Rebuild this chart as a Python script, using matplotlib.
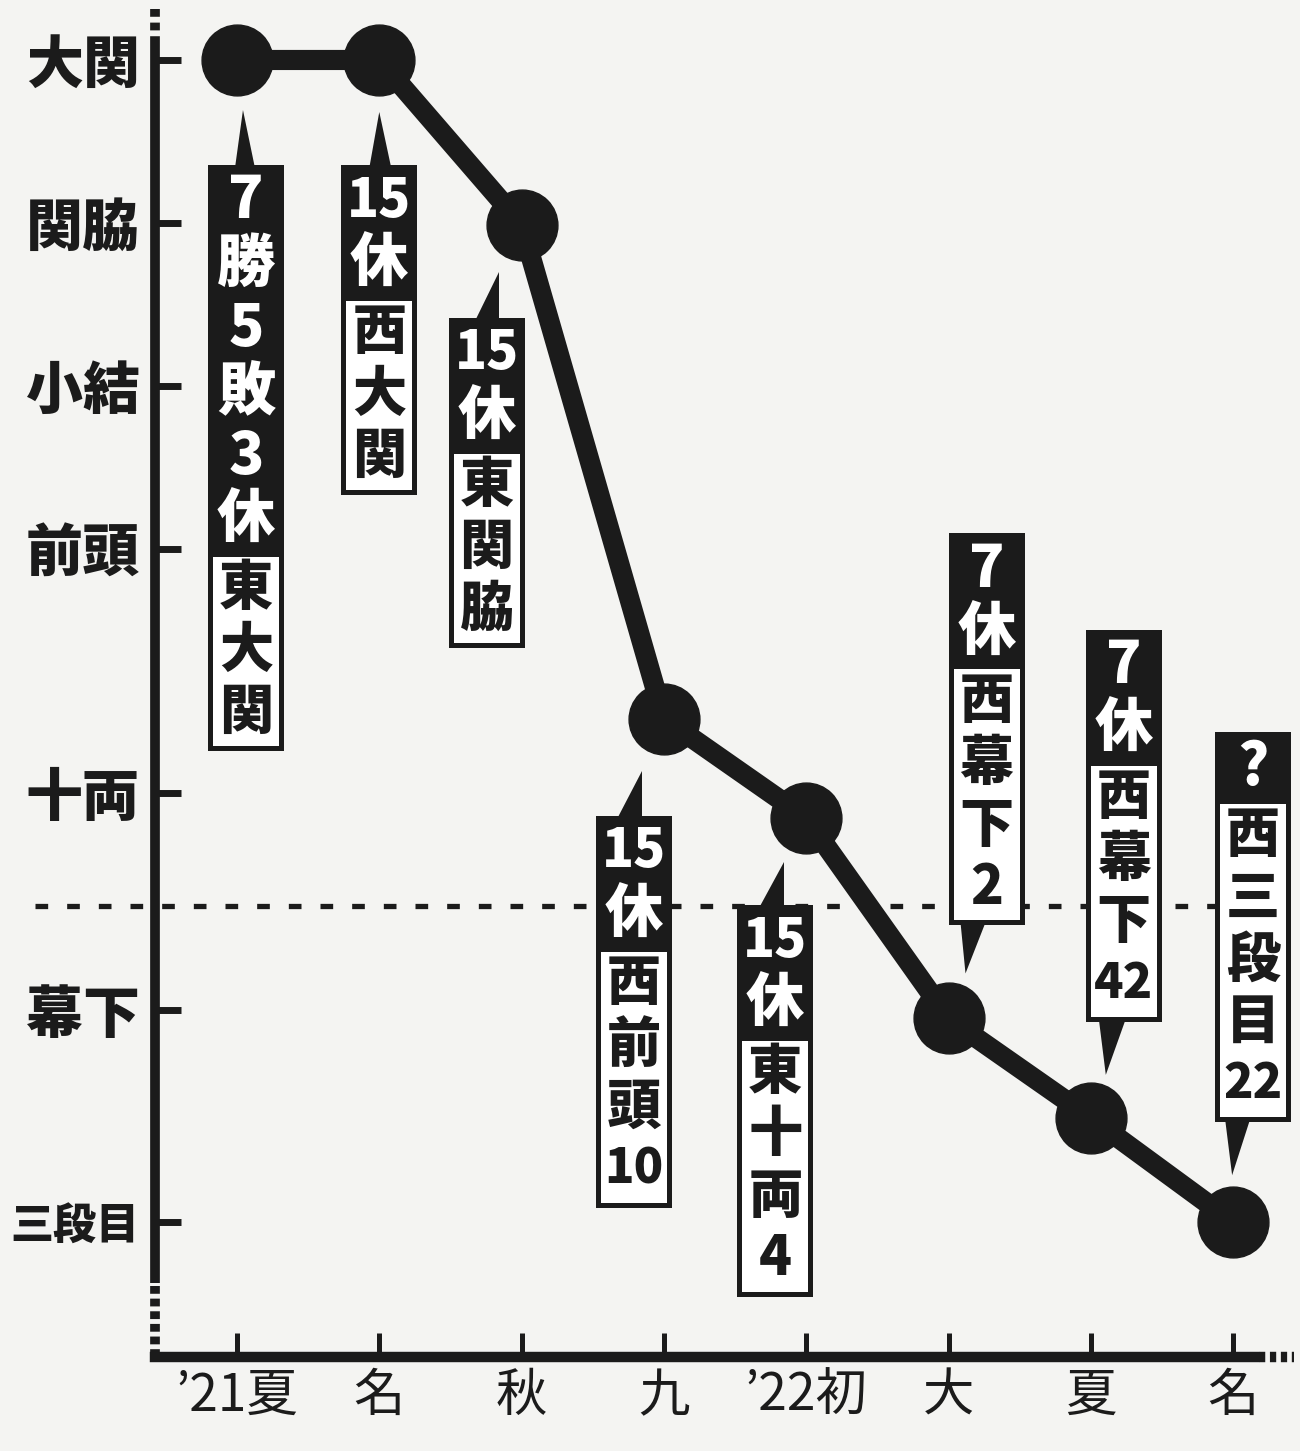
import re
import matplotlib.pyplot as plt
import matplotlib.transforms as mtrans
from matplotlib.patches import Rectangle, Polygon

plt.rcParams['font.family'] = ['Noto Sans CJK JP', 'DejaVu Sans']

INK = '#1b1b1b'
PAPER = '#f4f4f2'

# banzuke rank axis (top = highest rank)
rank_labels = ['大関', '関脇', '小結', '前頭', '十両', '幕下', '三段目']
rank_pos = [0, 1, 2, 3, 4.5, 5.83, 7.13]
juryo_line = 5.19  # sekitori / makushita border

basho = ['’21夏', '名', '秋', '九', '’22初', '大', '夏', '名']
rank_vals = [0, 0, 1.01, 4.04, 4.65, 5.88, 6.49, 7.13]
results = ['7勝5敗3休', '15休', '15休', '15休', '15休', '7休', '7休', '?']
banzuke = ['東大関', '西大関', '東関脇', '西前頭10', '東十両4',
           '西幕下2', '西幕下42', '西三段目22']

# callout layout in pixels from each dot (y grows downward):
# side, box left, gap to box, pointer tip (dx, dy), pointer base (x0, x1)
callouts = [
    ('below', -29, 105, (6, 50), (-2, 18)),
    ('below', -38, 105, (0, 52), (-10, 12)),
    ('below', -73, 93, (-23, 47), (-47, -23)),
    ('below', -68, 97, (-22, 52), (-47, -22)),
    ('below', -69, 87, (-22, 44), (-47, -22)),
    ('above', 0, 93, (17, 45), (12, 37)),
    ('above', -5, 96, (15, 43), (8, 35)),
    ('above', -18, 100, (-1, 47), (-8, 17)),
]
BOX_W = 76
CELL_B = 64
CELL_W = 62

fig = plt.figure(figsize=(13, 14.51), dpi=100)
fig.patch.set_facecolor(PAPER)
ax = fig.add_axes([155 / 1300, 94 / 1451, 1145 / 1300, 1357 / 1451])
ax.set_facecolor('none')

x = list(range(len(basho)))
ax.set_xlim(-0.576, 7.47)
ax.set_ylim(7.957, -0.368)

# main line with dots
ax.plot(x, rank_vals, color=INK, lw=14.5, marker='o', ms=51,
        solid_capstyle='round', zorder=3)

# dotted border between juryo and makushita
ax.axhline(juryo_line, xmin=-0.105, xmax=0.93, color=INK, lw=3.8,
           linestyle=(0, (2.4, 3.6)), clip_on=False, zorder=1)

# axes styling
for s in ['top', 'right']:
    ax.spines[s].set_visible(False)
ax.spines['left'].set_linewidth(7)
ax.spines['bottom'].set_linewidth(7.5)
ax.spines['left'].set_color(INK)
ax.spines['bottom'].set_color(INK)
ax.spines['left'].set_bounds(7.50, -0.135)
ax.spines['bottom'].set_bounds(-0.576, 7.15)
ax.spines['left'].set_capstyle('butt')

# broken ends of the axes
ax.plot([0, 0], [-0.31, -0.135], transform=ax.get_yaxis_transform(),
        color=INK, lw=7, linestyle=(0, (0.8, 0.6)), clip_on=False)
ax.plot([0, 0], [7.52, 7.957], transform=ax.get_yaxis_transform(),
        color=INK, lw=7, linestyle=(0, (0.8, 0.5)), clip_on=False)
ax.plot([7.18, 7.43], [0, 0], transform=ax.get_xaxis_transform(),
        color=INK, lw=7.5, linestyle=(0, (0.6, 0.45)), clip_on=False)

ax.set_yticks(rank_pos, rank_labels, fontsize=41, fontweight='heavy')
ax.set_xticks(x, basho, fontsize=37)
ax.tick_params(axis='y', direction='in', length=19, width=5, color=INK,
               pad=11, labelcolor=INK)
ax.tick_params(axis='x', direction='in', length=17, width=3.6, color=INK,
               pad=9, labelcolor=INK)
for lab in ax.get_yticklabels():
    if len(lab.get_text()) > 2:
        lab.set_fontsize(31)


def draw_callout(i, side, left, gap, tip, base):
    tr = mtrans.Affine2D().scale(1, -1) + \
        mtrans.ScaledTranslation(x[i], rank_vals[i], ax.transData)
    btoks = re.findall(r'\d+|.', results[i])
    wtoks = re.findall(r'\d+|.', banzuke[i])
    hb = len(btoks) * CELL_B + 8
    hw = len(wtoks) * CELL_W + 8
    if side == 'below':
        top = gap
        edge_in = gap + 3
        tip_v = tip[1]
    else:
        top = -gap - hb - hw
        edge_in = -gap - 3
        tip_v = -tip[1]
    cx = left + BOX_W / 2

    ax.add_patch(Polygon([(base[0], edge_in), (base[1], edge_in), (tip[0], tip_v)],
                         closed=True, facecolor=INK, edgecolor='none',
                         transform=tr, clip_on=False, zorder=5))
    ax.add_patch(Rectangle((left, top), BOX_W, hb + hw, facecolor=INK,
                           edgecolor='none', transform=tr, clip_on=False, zorder=5))
    ax.add_patch(Rectangle((left + 5, top + hb), BOX_W - 10, hw - 5, facecolor='white',
                           edgecolor='none', transform=tr, clip_on=False, zorder=6))
    for k, t in enumerate(btoks):
        fs = 38 if len(t) > 1 else 42
        ax.text(cx, top + 4 + CELL_B * (k + 0.5), t, transform=tr, color='white',
                fontsize=fs, fontweight='heavy', ha='center', va='center',
                clip_on=False, zorder=7)
    for k, t in enumerate(wtoks):
        fs = 35 if len(t) > 1 else 39
        ax.text(cx, top + hb + 1 + CELL_W * (k + 0.5), t, transform=tr, color=INK,
                fontsize=fs, fontweight='heavy', ha='center', va='center',
                clip_on=False, zorder=7)


for i, c in enumerate(callouts):
    draw_callout(i, *c)

fig.savefig('out.png', dpi=100, facecolor=PAPER)
